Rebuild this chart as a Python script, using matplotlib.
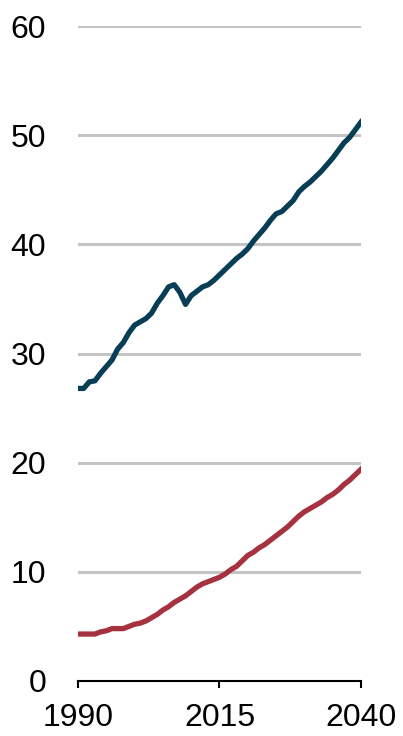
import matplotlib
matplotlib.use("Agg")
import matplotlib.pyplot as plt
import numpy as np

years = list(range(1990, 2041))
blue_series = [26.8, 26.8, 27.4, 27.5, 28.2, 28.8, 29.4, 30.4, 31.0, 31.9,
               32.6, 32.9, 33.2, 33.7, 34.6, 35.3, 36.1, 36.3, 35.6, 34.5,
               35.3, 35.7, 36.1, 36.3, 36.7, 37.2, 37.7, 38.2, 38.7, 39.1,
               39.6, 40.3, 40.9, 41.5, 42.2, 42.8, 43.0, 43.5, 44.0, 44.8,
               45.3, 45.7, 46.2, 46.7, 47.3, 47.9, 48.6, 49.3, 49.8, 50.5,
               51.2]
red_series = [4.3, 4.3, 4.3, 4.3, 4.5, 4.6, 4.8, 4.8, 4.8, 5.0,
              5.2, 5.3, 5.5, 5.8, 6.1, 6.5, 6.8, 7.2, 7.5, 7.8,
              8.2, 8.6, 8.9, 9.1, 9.3, 9.5, 9.8, 10.2, 10.5, 11.0,
              11.5, 11.8, 12.2, 12.5, 12.9, 13.3, 13.7, 14.1, 14.6, 15.1,
              15.5, 15.8, 16.1, 16.4, 16.8, 17.1, 17.5, 18.0, 18.4, 18.9,
              19.4]
x_ticks = [1990, 2015, 2040]
y_ticks = [0, 10, 20, 30, 40, 50, 60]

plt.rcParams['font.family'] = ['Liberation Sans', 'DejaVu Sans']

fig = plt.figure(figsize=(4.03, 7.36), dpi=100)
ax = fig.add_axes([78/403, 1-681/736, (361-78)/403, (681-26)/736])

for yv in y_ticks[1:]:
    ax.axhline(yv, color='#c4c4c4', lw=2.2, zorder=1)

ax.plot(years, blue_series, color='#083d56', lw=3.8, zorder=3, solid_joinstyle='round')
ax.plot(years, red_series, color='#a6323f', lw=3.8, zorder=3, solid_joinstyle='round')

ax.set_xlim(1990, 2040)
ax.set_ylim(0, 60)
ax.set_xticks(x_ticks)
ax.set_yticks(y_ticks)
ax.tick_params(axis='y', length=0, pad=23, labelsize=23)
ax.tick_params(axis='x', length=5, width=1.5, pad=11, labelsize=23, direction='out')
for s in ['left', 'right', 'top']:
    ax.spines[s].set_visible(False)
ax.spines['bottom'].set_linewidth(1.5)
ax.spines['bottom'].set_color('black')
ax.spines['bottom'].set_zorder(4)
ax.patch.set_visible(False)

fig.savefig('out.png', dpi=100)
